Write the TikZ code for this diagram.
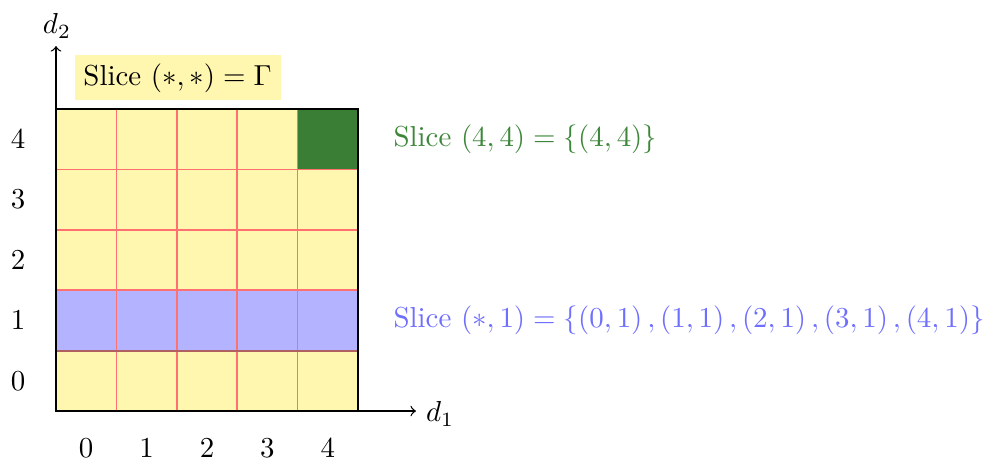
\documentclass[tikz,border=0pt]{standalone}
\definecolor{cellyellow}{RGB}{255,246,176}
\definecolor{bandblue}{RGB}{179,179,255}
\definecolor{cellgreen}{RGB}{58,125,52}
\definecolor{gridred}{RGB}{255,112,112}
\definecolor{edgebrown}{RGB}{176,96,96}
\definecolor{txtblue}{RGB}{110,110,255}
\definecolor{txtgreen}{RGB}{62,135,58}
\begin{document}
\begin{tikzpicture}[x=0.346pt,y=-0.346pt,
  gridline/.style={gridred,line width=0.5pt},
  axis/.style={->,line width=0.45pt},
  lbl/.style={inner sep=0pt,anchor=center}]
\useasboundingbox (0,0) rectangle (987,459);
% fills
\fill[cellyellow] (56,109) rectangle (358,411);
\fill[bandblue] (56,290.2) rectangle (358,350.6);
\fill[cellgreen] (297.6,109) rectangle (358,169.4);
% grid
\foreach \i in {1,2,3,4} {
  \draw[gridline] (56+60.4*\i,109) -- (56+60.4*\i,411);
}
\foreach \j in {1,2,3} {
  \draw[gridline] (56,109+60.4*\j) -- (358,109+60.4*\j);
}
\draw[edgebrown,line width=0.7pt] (56,350.6) -- (358,350.6);
% border
\draw[line width=0.55pt] (56,411) rectangle (358,109);
% axes
\coordinate (o) at (56,411);
\coordinate (xe) at (416,411);
\coordinate (ye) at (56,46);
\draw[axis] (o) -- (xe);
\draw[axis] (o) -- (ye);
\node[lbl] (d1) at (440,414) {$d_1$};
\node[lbl] (d2) at (57,26) {$d_2$};
% labels
\foreach \k in {0,...,4} {
  \node[lbl] (c\k) at (86.2+60.4*\k,448) {$\k$};
  \node[lbl] (r\k) at (18,380.8-60.4*\k) {$\k$};
}
\node[fill=cellyellow,anchor=south west,inner sep=0pt,minimum width=206*0.346pt,minimum height=45*0.346pt] (sa) at (74,101) {Slice $(*,*) = \Gamma$};
\node[anchor=west,inner sep=0pt,text=txtgreen] (sg) at (393,139) {Slice $(4,4) = \{(4,4)\}$};
\node[anchor=west,inner sep=0pt,text=txtblue] (sb) at (393,320) {Slice $(*,1) = \{(0,1)\,,(1,1)\,,(2,1)\,,(3,1)\,,(4,1)\}$};
\end{tikzpicture}
\end{document}
